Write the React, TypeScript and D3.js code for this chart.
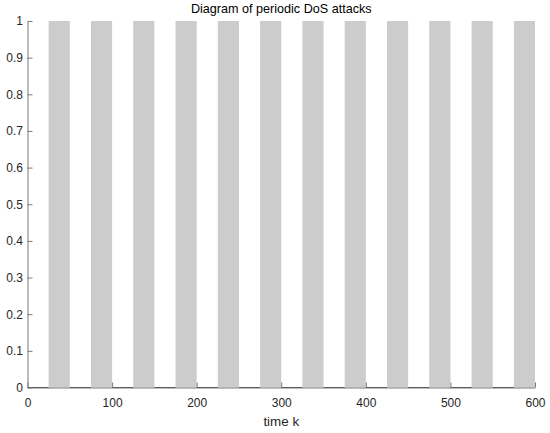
import { useEffect, useRef } from 'react';
import * as d3 from 'd3';

// DoS attack intervals (time k)
const attackStarts = [25, 75, 125, 175, 225, 275, 325, 375, 425, 475, 525, 575];
const attackEnds = [50, 100, 150, 200, 250, 300, 350, 400, 450, 500, 550, 600];
const xTicks = [0, 100, 200, 300, 400, 500, 600];
const yTicks = [0, 0.1, 0.2, 0.3, 0.4, 0.5, 0.6, 0.7, 0.8, 0.9, 1];

const App = () => {
	const svgRef = useRef<SVGSVGElement>(null);
	const width = 550;
	const height = 433;
	const margin = { top: 21, right: 15, bottom: 46, left: 27.5 };

	useEffect(() => {
		const svg = d3.select(svgRef.current);
		svg.selectAll('*').remove();

		const x = d3.scaleLinear().domain([0, 600]).range([margin.left, width - margin.right]);
		const y = d3.scaleLinear().domain([0, 1]).range([height - margin.bottom + 0.5, margin.top]);

		const attacks = attackStarts.map((s, i) => ({ s, e: attackEnds[i] }));

		svg.append('g')
			.selectAll('rect')
			.data(attacks)
			.join('rect')
			.attr('x', d => x(d.s))
			.attr('y', y(1))
			.attr('width', d => x(d.e) - x(d.s))
			.attr('height', y(0) - y(1))
			.attr('fill', '#cccccc');

		// signal at zero between attacks
		const gaps = attacks.map((d, i) => ({ s: i === 0 ? 0 : attackEnds[i - 1], e: d.s }));
		svg.append('g')
			.selectAll('line')
			.data(gaps)
			.join('line')
			.attr('x1', d => x(d.s))
			.attr('x2', d => x(d.e))
			.attr('y1', y(0))
			.attr('y2', y(0))
			.attr('stroke', '#404040')
			.attr('stroke-width', 1);

		const xAxis = d3.axisBottom(x).tickValues(xTicks).tickSizeInner(-5).tickSizeOuter(0).tickPadding(10.5);
		const gx = svg.append('g')
			.attr('transform', `translate(0,${y(0)})`)
			.call(xAxis);

		const yAxis = d3.axisLeft(y).tickValues(yTicks).tickFormat(d3.format('~g')).tickSizeInner(-5).tickSizeOuter(0).tickPadding(4.5);
		const gy = svg.append('g')
			.attr('transform', `translate(${x(0)},0)`)
			.call(yAxis);

		[gx, gy].forEach(g => {
			g.select('.domain').attr('stroke', '#7a7a7a');
			g.selectAll('.tick line').attr('stroke', '#7a7a7a');
			g.selectAll('.tick text')
				.attr('fill', '#262626')
				.style('font-family', 'Liberation Sans, Arial, sans-serif')
				.style('font-size', '12px');
		});

		svg.append('text')
			.attr('x', (x(0) + x(600)) / 2)
			.attr('y', 425.5)
			.attr('text-anchor', 'middle')
			.attr('fill', '#262626')
			.style('font-family', 'Liberation Sans, Arial, sans-serif')
			.style('font-size', '13.4px')
			.text('time k');

		svg.append('text')
			.attr('x', (x(0) + x(600)) / 2)
			.attr('y', 13)
			.attr('text-anchor', 'middle')
			.attr('fill', '#000')
			.style('font-family', 'Liberation Sans, Arial, sans-serif')
			.style('font-size', '12.6px')
			.text('Diagram of periodic DoS attacks');
	}, []);

	return (
		<div style={{ position: 'absolute', left: 0, top: 0 }}>
			<svg ref={svgRef} width={width} height={height} style={{ background: '#fff', display: 'block' }} />
		</div>
	);
};

export default App;
